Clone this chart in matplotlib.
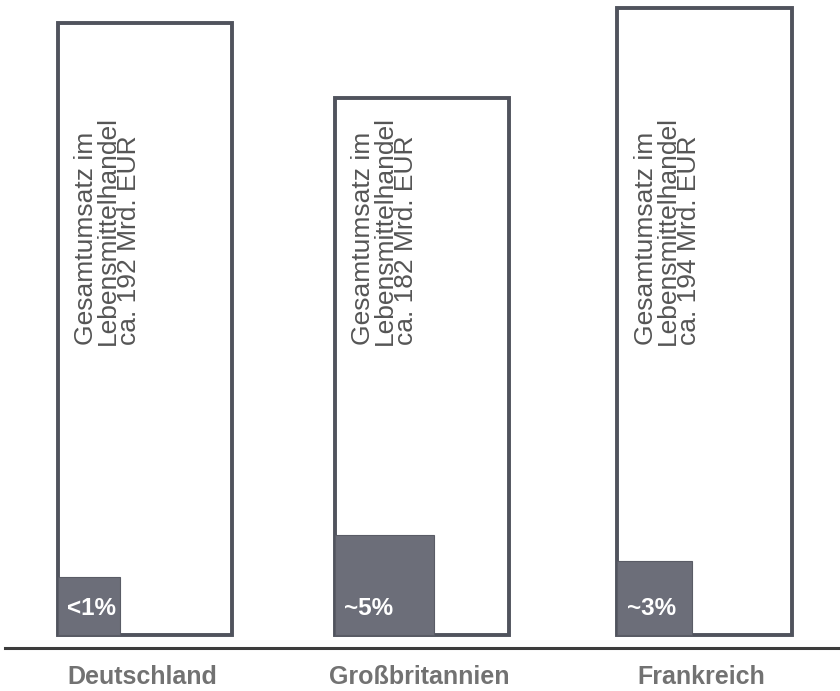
import matplotlib
matplotlib.use("Agg")
import matplotlib.pyplot as plt
import numpy as np

# Food retail turnover per country (billion EUR) and share labels
countries = ["Deutschland", "Großbritannien", "Frankreich"]
totals = [192, 182, 194]
share_labels = ["<1%", "~5%", "~3%"]
# Size of the highlighted share box inside each bar (x units, EUR units)
share_box_w = [0.222, 0.354, 0.268]
share_box_h = [7.7, 13.3, 9.9]

plt.rcParams["font.family"] = ["Liberation Sans", "DejaVu Sans"]

fig = plt.figure(figsize=(8.4, 6.91), dpi=100)
ax = fig.add_axes([0, 0, 1, 1])
ax.set_xlim(-0.5183, 2.4844)
ax.set_ylim(102.93, 195.07)
ax.axis("off")

floor = 110.4          # truncated value axis starts here
bar_w = 0.625
x = np.array([0.0, 0.99, 2.0])
edge_col = "#50535d"
fill_col = "#6c6e79"

heights = [t - floor for t in totals]
ax.bar(x, heights, bottom=floor, width=bar_w, facecolor="white",
       edgecolor=edge_col, linewidth=2.8, zorder=2)

lefts = x - bar_w / 2
ax.bar(lefts, share_box_h, bottom=floor, width=share_box_w, align="edge",
       facecolor=fill_col, edgecolor="#5a5c66", linewidth=0.8, zorder=3)

# baseline rule
ax.axhline(108.67, xmin=0.006, color="#3c3c3c", linewidth=2.2, zorder=1)

for i, (xl, tot, lab) in enumerate(zip(lefts, totals, share_labels)):
    ax.text(xl + 0.06, 149.0,
            f"Gesamtumsatz im\nLebensmittelhandel\nca. {tot} Mrd. EUR",
            rotation=90, ha="left", va="bottom", multialignment="left",
            fontsize=19, color="#555555", linespacing=0.87, zorder=4)
    ax.text(xl + 0.035, floor + 2.6, lab, ha="left", va="baseline",
            fontsize=17.5, fontweight="bold", color="white", zorder=4)

for xi, name in zip(x, countries):
    ax.text(xi - 0.01, 104.8, name, ha="center", va="center", fontsize=18,
            fontweight="bold", color="#727272")

fig.savefig("out.png", dpi=100)
